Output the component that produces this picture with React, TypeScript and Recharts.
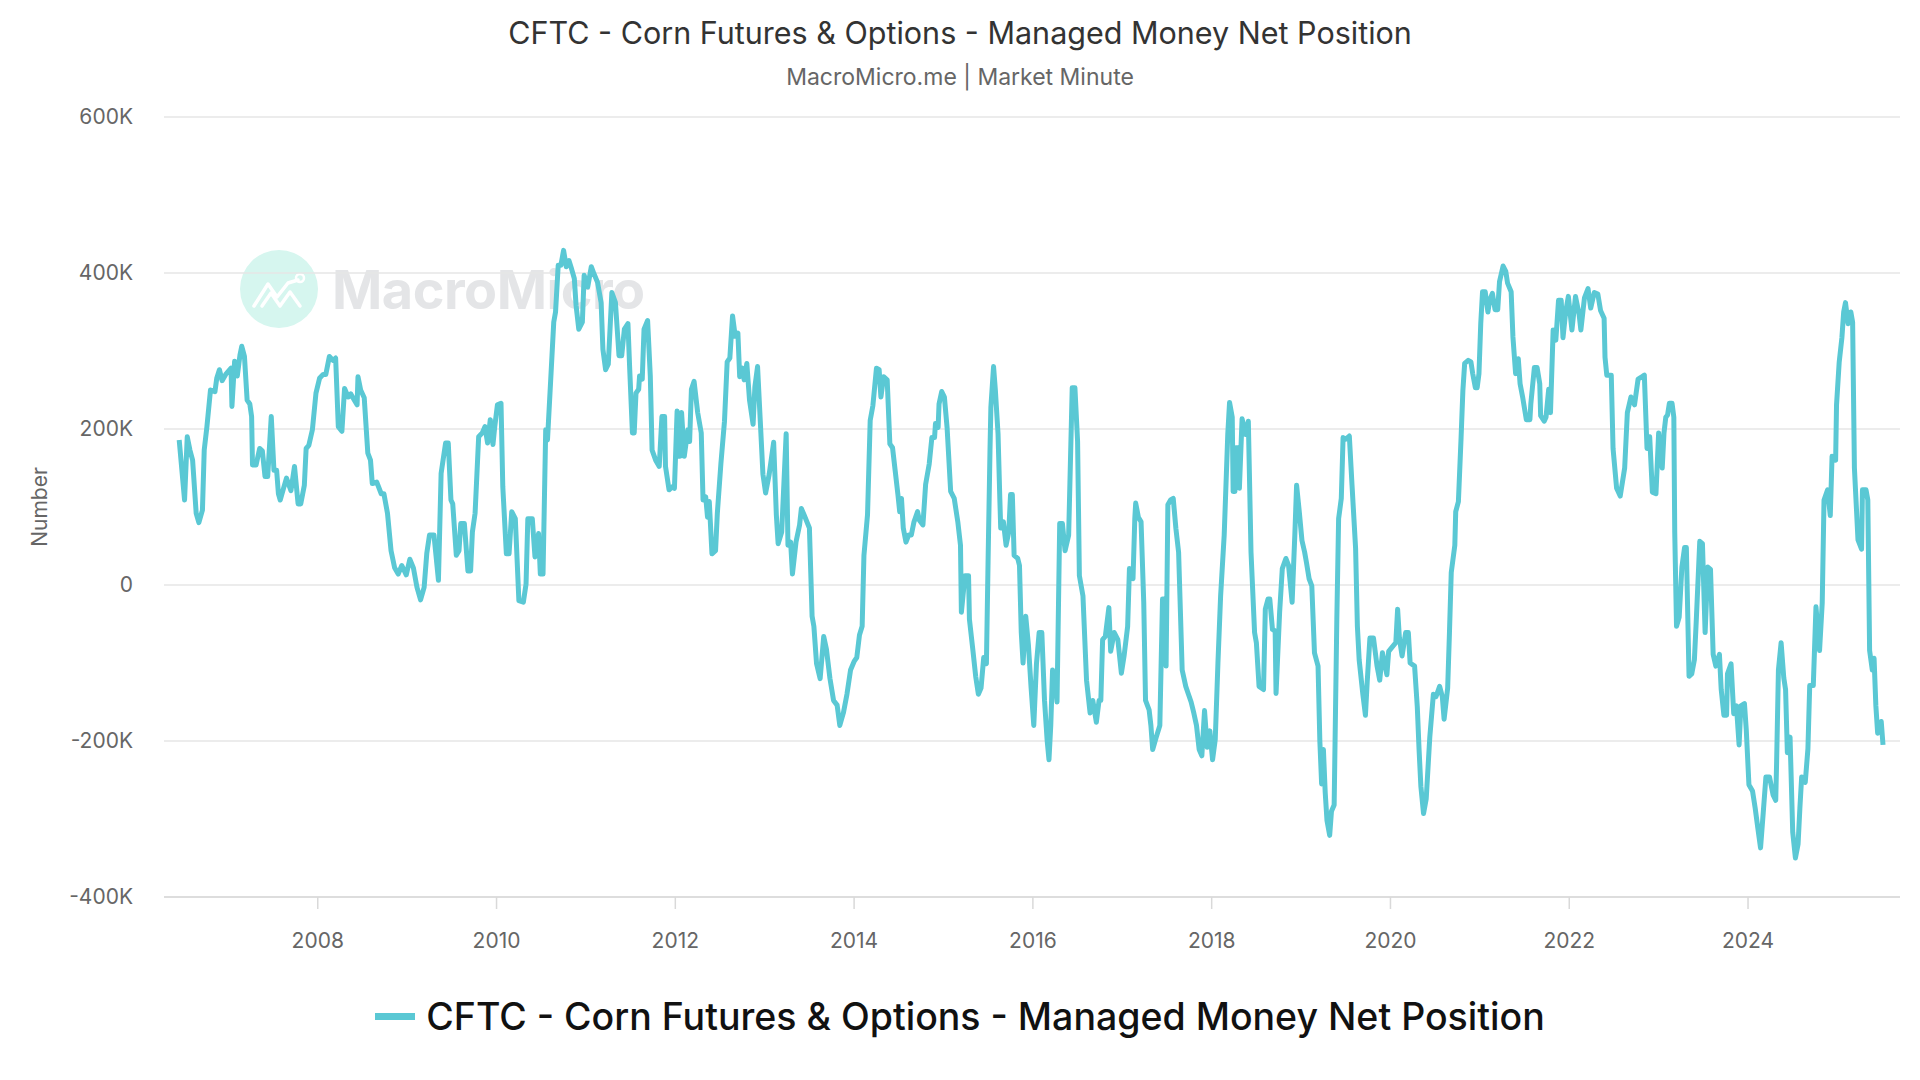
import React from "react";
import { CartesianGrid, Line, LineChart, XAxis, YAxis } from "recharts";

const TITLE = "CFTC - Corn Futures & Options - Managed Money Net Position";
const SUBTITLE = "MacroMicro.me | Market Minute";
const SERIES_NAME = "CFTC - Corn Futures & Options - Managed Money Net Position";

// decimal year of each report
const years = [
  2006.45, 2006.51, 2006.54, 2006.57, 2006.6, 2006.64, 2006.67, 2006.71, 2006.73, 2006.76,
  2006.8, 2006.85, 2006.87, 2006.9, 2006.93, 2006.97, 2007.03, 2007.04, 2007.07, 2007.1,
  2007.13, 2007.15, 2007.18, 2007.21, 2007.24, 2007.26, 2007.27, 2007.31, 2007.35, 2007.38,
  2007.41, 2007.44, 2007.48, 2007.51, 2007.54, 2007.56, 2007.58, 2007.65, 2007.7, 2007.74,
  2007.78, 2007.81, 2007.85, 2007.87, 2007.9, 2007.94, 2007.98, 2008.02, 2008.06, 2008.09,
  2008.13, 2008.17, 2008.2, 2008.23, 2008.27, 2008.3, 2008.34, 2008.37, 2008.41, 2008.44,
  2008.45, 2008.48, 2008.52, 2008.56, 2008.59, 2008.61, 2008.66, 2008.71, 2008.74, 2008.78,
  2008.82, 2008.86, 2008.9, 2008.94, 2008.99, 2009.03, 2009.07, 2009.11, 2009.15, 2009.19,
  2009.22, 2009.25, 2009.3, 2009.35, 2009.38, 2009.43, 2009.46, 2009.49, 2009.51, 2009.55,
  2009.58, 2009.6, 2009.64, 2009.68, 2009.71, 2009.73, 2009.76, 2009.8, 2009.84, 2009.87,
  2009.9, 2009.93, 2009.96, 2009.98, 2010.01, 2010.05, 2010.07, 2010.11, 2010.14, 2010.17,
  2010.21, 2010.25, 2010.3, 2010.33, 2010.35, 2010.4, 2010.43, 2010.47, 2010.49, 2010.52,
  2010.55, 2010.57, 2010.61, 2010.64, 2010.66, 2010.69, 2010.72, 2010.75, 2010.78, 2010.81,
  2010.84, 2010.87, 2010.89, 2010.92, 2010.96, 2010.98, 2011.02, 2011.06, 2011.09, 2011.13,
  2011.17, 2011.19, 2011.22, 2011.25, 2011.29, 2011.33, 2011.37, 2011.4, 2011.43, 2011.47,
  2011.49, 2011.52, 2011.54, 2011.56, 2011.59, 2011.6, 2011.63, 2011.65, 2011.69, 2011.72,
  2011.74, 2011.78, 2011.82, 2011.85, 2011.88, 2011.89, 2011.93, 2011.97, 2011.99, 2012.02,
  2012.05, 2012.07, 2012.1, 2012.14, 2012.16, 2012.18, 2012.21, 2012.25, 2012.29, 2012.31,
  2012.34, 2012.36, 2012.38, 2012.41, 2012.45, 2012.47, 2012.51, 2012.55, 2012.58, 2012.61,
  2012.64, 2012.67, 2012.7, 2012.72, 2012.75, 2012.77, 2012.8, 2012.83, 2012.87, 2012.89,
  2012.92, 2012.95, 2012.98, 2013.01, 2013.05, 2013.1, 2013.13, 2013.15, 2013.19, 2013.24,
  2013.26, 2013.29, 2013.31, 2013.35, 2013.39, 2013.41, 2013.44, 2013.5, 2013.53, 2013.55,
  2013.58, 2013.62, 2013.66, 2013.69, 2013.73, 2013.77, 2013.81, 2013.84, 2013.88, 2013.92,
  2013.96, 2014.0, 2014.03, 2014.06, 2014.09, 2014.11, 2014.15, 2014.18, 2014.21, 2014.25,
  2014.28, 2014.3, 2014.33, 2014.37, 2014.4, 2014.43, 2014.46, 2014.49, 2014.51, 2014.53,
  2014.55, 2014.58, 2014.61, 2014.64, 2014.67, 2014.71, 2014.73, 2014.77, 2014.8, 2014.84,
  2014.87, 2014.9, 2014.91, 2014.94, 2014.95, 2014.98, 2015.01, 2015.04, 2015.08, 2015.12,
  2015.16, 2015.19, 2015.2, 2015.24, 2015.28, 2015.29, 2015.33, 2015.36, 2015.39, 2015.42,
  2015.45, 2015.48, 2015.5, 2015.52, 2015.53, 2015.56, 2015.58, 2015.61, 2015.63, 2015.64,
  2015.67, 2015.7, 2015.73, 2015.75, 2015.77, 2015.79, 2015.83, 2015.85, 2015.87, 2015.89,
  2015.92, 2015.95, 2015.98, 2016.01, 2016.04, 2016.07, 2016.1, 2016.13, 2016.16, 2016.18,
  2016.2, 2016.22, 2016.25, 2016.27, 2016.3, 2016.33, 2016.36, 2016.4, 2016.44, 2016.47,
  2016.5, 2016.52, 2016.56, 2016.6, 2016.64, 2016.67, 2016.71, 2016.74, 2016.76, 2016.78,
  2016.81, 2016.85, 2016.87, 2016.91, 2016.95, 2016.99, 2017.02, 2017.06, 2017.08, 2017.12,
  2017.14, 2017.15, 2017.18, 2017.21, 2017.24, 2017.26, 2017.3, 2017.32, 2017.34, 2017.38,
  2017.42, 2017.45, 2017.47, 2017.49, 2017.51, 2017.54, 2017.57, 2017.6, 2017.63, 2017.67,
  2017.71, 2017.74, 2017.77, 2017.8, 2017.83, 2017.86, 2017.89, 2017.92, 2017.95, 2017.98,
  2018.01, 2018.04, 2018.07, 2018.1, 2018.14, 2018.18, 2018.2, 2018.23, 2018.24, 2018.26,
  2018.27, 2018.3, 2018.31, 2018.34, 2018.38, 2018.41, 2018.44, 2018.48, 2018.5, 2018.53,
  2018.58, 2018.6, 2018.63, 2018.65, 2018.68, 2018.71, 2018.72, 2018.76, 2018.79, 2018.83,
  2018.86, 2018.9, 2018.93, 2018.95, 2018.98, 2019.01, 2019.04, 2019.06, 2019.09, 2019.12,
  2019.15, 2019.19, 2019.21, 2019.23, 2019.25, 2019.27, 2019.29, 2019.32, 2019.34, 2019.37,
  2019.4, 2019.42, 2019.45, 2019.47, 2019.5, 2019.54, 2019.57, 2019.61, 2019.63, 2019.65,
  2019.69, 2019.72, 2019.74, 2019.77, 2019.81, 2019.85, 2019.88, 2019.91, 2019.96, 2019.98,
  2020.03, 2020.06, 2020.08, 2020.1, 2020.13, 2020.17, 2020.2, 2020.22, 2020.27, 2020.3,
  2020.32, 2020.34, 2020.37, 2020.4, 2020.44, 2020.48, 2020.51, 2020.55, 2020.58, 2020.6,
  2020.64, 2020.66, 2020.68, 2020.72, 2020.73, 2020.76, 2020.79, 2020.81, 2020.83, 2020.87,
  2020.9, 2020.92, 2020.95, 2020.97, 2020.99, 2021.01, 2021.03, 2021.06, 2021.09, 2021.11,
  2021.14, 2021.17, 2021.2, 2021.22, 2021.26, 2021.29, 2021.31, 2021.35, 2021.37, 2021.4,
  2021.43, 2021.45, 2021.48, 2021.52, 2021.56, 2021.57, 2021.61, 2021.64, 2021.67, 2021.68,
  2021.72, 2021.74, 2021.77, 2021.79, 2021.82, 2021.85, 2021.88, 2021.91, 2021.93, 2021.96,
  2021.99, 2022.03, 2022.07, 2022.11, 2022.13, 2022.17, 2022.21, 2022.24, 2022.28, 2022.32,
  2022.35, 2022.39, 2022.4, 2022.42, 2022.47, 2022.49, 2022.53, 2022.57, 2022.62, 2022.65,
  2022.69, 2022.73, 2022.77, 2022.8, 2022.84, 2022.87, 2022.9, 2022.93, 2022.97, 2023.0,
  2023.04, 2023.06, 2023.08, 2023.1, 2023.12, 2023.15, 2023.17, 2023.18, 2023.2, 2023.23,
  2023.26, 2023.29, 2023.31, 2023.34, 2023.37, 2023.4, 2023.42, 2023.46, 2023.49, 2023.52,
  2023.55, 2023.58, 2023.61, 2023.64, 2023.68, 2023.7, 2023.73, 2023.76, 2023.77, 2023.81,
  2023.84, 2023.87, 2023.9, 2023.92, 2023.96, 2023.98, 2024.01, 2024.05, 2024.08, 2024.11,
  2024.14, 2024.17, 2024.2, 2024.24, 2024.28, 2024.31, 2024.32, 2024.34, 2024.37, 2024.4,
  2024.42, 2024.44, 2024.47, 2024.5, 2024.53, 2024.56, 2024.58, 2024.6, 2024.64, 2024.67,
  2024.69, 2024.73, 2024.76, 2024.8, 2024.83, 2024.85, 2024.89, 2024.92, 2024.94, 2024.98,
  2024.99, 2025.02, 2025.05, 2025.07, 2025.09, 2025.12, 2025.15, 2025.17, 2025.19, 2025.23,
  2025.27, 2025.28, 2025.32, 2025.34, 2025.36, 2025.39, 2025.41, 2025.43, 2025.45, 2025.49,
  2025.51,
];

// managed money net position, thousands of contracts
const netPosition = [
  186, 109, 190, 173, 160, 92, 80, 96, 173, 203,
  250, 248, 265, 276, 262, 270, 278, 229, 287, 268,
  295, 306, 293, 237, 232, 216, 154, 154, 175, 172,
  139, 139, 216, 147, 147, 117, 109, 137, 121, 152,
  104, 104, 128, 175, 179, 199, 246, 265, 270, 270,
  293, 288, 291, 203, 197, 252, 241, 245, 237, 231,
  267, 250, 240, 169, 160, 130, 132, 117, 117, 92,
  44, 22, 14, 25, 13, 33, 22, -3, -19, -3,
  41, 64, 64, 6, 143, 182, 182, 109, 104, 38,
  44, 79, 79, 18, 18, 68, 92, 190, 195, 203,
  182, 212, 180, 203, 231, 233, 126, 40, 40, 94,
  85, -20, -22, 1, 85, 85, 36, 66, 14, 14,
  199, 186, 272, 337, 350, 410, 410, 429, 408, 416,
  405, 393, 358, 328, 337, 397, 382, 408, 399, 388,
  362, 302, 276, 283, 375, 362, 294, 294, 328, 335,
  276, 195, 195, 246, 251, 268, 264, 328, 339, 268,
  173, 160, 152, 216, 216, 152, 122, 126, 124, 223,
  165, 221, 165, 199, 184, 251, 261, 221, 195, 109,
  113, 87, 107, 40, 44, 92, 156, 210, 286, 291,
  345, 319, 323, 267, 278, 263, 284, 237, 206, 254,
  280, 211, 142, 118, 142, 183, 90, 53, 68, 194,
  51, 55, 14, 55, 77, 98, 90, 73, -40, -53,
  -101, -120, -66, -82, -120, -148, -154, -180, -164, -140,
  -109, -98, -93, -64, -53, 38, 90, 211, 230, 278,
  276, 241, 267, 263, 181, 176, 146, 116, 94, 111,
  73, 55, 64, 64, 81, 94, 83, 77, 129, 155,
  189, 189, 207, 202, 232, 248, 241, 202, 120, 111,
  81, 51, -35, 12, 12, -44, -85, -117, -140, -132,
  -93, -101, 40, 172, 228, 280, 250, 194, 111, 73,
  81, 51, 68, 116, 116, 38, 34, 25, -61, -100,
  -40, -77, -132, -180, -101, -61, -61, -148, -200, -224,
  -180, -109, -124, -150, 79, 79, 44, 64, 253, 253,
  184, 12, -14, -122, -164, -148, -176, -148, -148, -70,
  -66, -29, -85, -61, -70, -113, -91, -53, 21, 8,
  85, 105, 87, 81, -22, -148, -160, -180, -211, -195,
  -180, -18, -18, -104, 103, 109, 111, 72, 42, -109,
  -130, -140, -150, -164, -180, -211, -219, -161, -208, -187,
  -224, -198, -100, -14, 64, 193, 234, 215, 120, 120,
  176, 176, 124, 213, 193, 210, 42, -61, -74, -130,
  -134, -31, -18, -18, -57, -59, -139, -35, 21, 34,
  25, -22, 64, 128, 94, 57, 42, 29, 8, -1,
  -87, -104, -200, -255, -211, -266, -302, -321, -290, -282,
  -44, 85, 111, 189, 187, 191, 128, 47, -53, -96,
  -139, -167, -124, -68, -68, -104, -122, -87, -115, -85,
  -78, -74, -31, -68, -91, -61, -61, -100, -104, -156,
  -211, -258, -293, -274, -195, -140, -143, -130, -143, -172,
  -132, -61, 16, 51, 94, 107, 189, 249, 284, 288,
  286, 271, 253, 253, 271, 335, 376, 376, 350, 365,
  374, 353, 353, 389, 409, 402, 387, 376, 318, 271,
  290, 258, 240, 212, 212, 232, 279, 279, 258, 217,
  210, 215, 251, 221, 327, 314, 365, 365, 317, 350,
  370, 327, 370, 347, 327, 368, 380, 355, 375, 373,
  352, 342, 292, 269, 269, 175, 124, 114, 150, 221,
  241, 231, 264, 266, 269, 175, 190, 119, 117, 195,
  150, 195, 215, 218, 233, 233, 215, 68, -53, -41,
  23, 48, 48, -117, -114, -96, -48, 56, 53, -61,
  23, 20, -89, -104, -89, -134, -167, -167, -114, -101,
  -165, -155, -205, -155, -152, -185, -256, -264, -286, -312,
  -337, -292, -246, -246, -269, -276, -226, -109, -74, -119,
  -134, -215, -195, -317, -350, -332, -286, -246, -253, -210,
  -129, -129, -28, -84, -23, 109, 122, 89, 165, 160,
  231, 286, 317, 350, 362, 335, 350, 337, 150, 58,
  46, 122, 122, 109, -84, -109, -94, -155, -190, -175,
  -205,
];

const yearTicks = [2008, 2010, 2012, 2014, 2016, 2018, 2020, 2022, 2024];
const valueTicks = [-400, -200, 0, 200, 400, 600];

const data = years.map((t, i) => ({ t, v: netPosition[i] }));

const FONT = "Inter, 'Noto Sans', sans-serif";
const LINE_COLOR = "#5ac8d4";

function NumberLabel(props: any) {
  const vb = props.viewBox || {};
  const cx = vb.x + 39;
  const cy = vb.y + vb.height / 2;
  return (
    <text
      x={cx}
      y={cy}
      transform={`rotate(-90, ${cx}, ${cy})`}
      textAnchor="middle"
      dominantBaseline="central"
      fill="#666666"
      fontSize={21}
      fontFamily={FONT}
    >
      Number
    </text>
  );
}

function Watermark() {
  return (
    <div
      style={{
        position: "absolute",
        left: 240,
        top: 250,
        display: "flex",
        alignItems: "center",
        gap: 14,
        pointerEvents: "none",
      }}
    >
      <svg width={78} height={78} viewBox="0 0 78 78">
        <circle cx={39} cy={39} r={39} fill="#d6f6ef" />
        <polyline
          points="14,56 28,34 37,47 48,33 58,30"
          fill="none"
          stroke="#ffffff"
          strokeWidth={3.5}
          strokeLinecap="round"
          strokeLinejoin="round"
        />
        <polyline
          points="22,56 31,43 40,56 50,42 60,56"
          fill="none"
          stroke="#ffffff"
          strokeWidth={3.5}
          strokeLinecap="round"
          strokeLinejoin="round"
        />
        <circle cx={60} cy={28} r={4} fill="none" stroke="#ffffff" strokeWidth={2.5} />
      </svg>
      <span
        style={{
          fontFamily: FONT,
          fontWeight: 700,
          fontSize: 54,
          color: "#e4e5e7",
          letterSpacing: -0.5,
        }}
      >
        MacroMicro
      </span>
    </div>
  );
}

export default function App() {
  return (
    <div
      style={{
        position: "absolute",
        left: 0,
        top: 0,
        width: 1920,
        height: 1080,
        background: "#ffffff",
        fontFamily: FONT,
      }}
    >
      <div
        style={{
          position: "absolute",
          top: 14,
          width: 1920,
          textAlign: "center",
          fontSize: 30.5,
          color: "#333333",
          lineHeight: "38px",
        }}
      >
        {TITLE}
      </div>
      <div
        style={{
          position: "absolute",
          top: 62,
          width: 1920,
          textAlign: "center",
          fontSize: 23,
          color: "#666666",
          lineHeight: "30px",
        }}
      >
        {SUBTITLE}
      </div>

      <Watermark />

      <div style={{ position: "absolute", left: 0, top: 0 }}>
        <LineChart
          width={1920}
          height={1080}
          data={data}
          margin={{ top: 117, right: 20, bottom: 123, left: 0 }}
        >
          <CartesianGrid vertical={false} stroke="#e6e6e6" strokeWidth={1.5} />
          <XAxis
            dataKey="t"
            type="number"
            domain={[2006.28, 2025.7]}
            ticks={yearTicks}
            allowDataOverflow
            height={60}
            tickSize={12}
            tickMargin={24}
            axisLine={{ stroke: "#d9d9d9", strokeWidth: 1.5 }}
            tickLine={{ stroke: "#d9d9d9", strokeWidth: 1.5 }}
            tick={{ fontSize: 21, fill: "#666666", fontFamily: FONT }}
            tickFormatter={(v) => String(v)}
          />
          <YAxis
            type="number"
            domain={[-400, 600]}
            ticks={valueTicks}
            width={164}
            axisLine={false}
            tickLine={false}
            tickSize={0}
            tickMargin={31}
            tick={{ fontSize: 21, fill: "#666666", fontFamily: FONT }}
            tickFormatter={(v) => (v === 0 ? "0" : `${v}K`)}
            label={<NumberLabel />}
          />
          <Line
            type="linear"
            dataKey="v"
            name={SERIES_NAME}
            stroke={LINE_COLOR}
            strokeWidth={5}
            strokeLinejoin="round"
            dot={false}
            isAnimationActive={false}
          />
        </LineChart>
      </div>

      <div
        style={{
          position: "absolute",
          top: 993,
          width: 1920,
          display: "flex",
          justifyContent: "center",
          alignItems: "center",
          height: 46,
        }}
      >
        <span
          style={{
            display: "inline-block",
            width: 40,
            height: 7,
            background: LINE_COLOR,
            marginRight: 11,
          }}
        />
        <span style={{ fontSize: 37.5, fontWeight: 500, color: "#111111" }}>{SERIES_NAME}</span>
      </div>
    </div>
  );
}
